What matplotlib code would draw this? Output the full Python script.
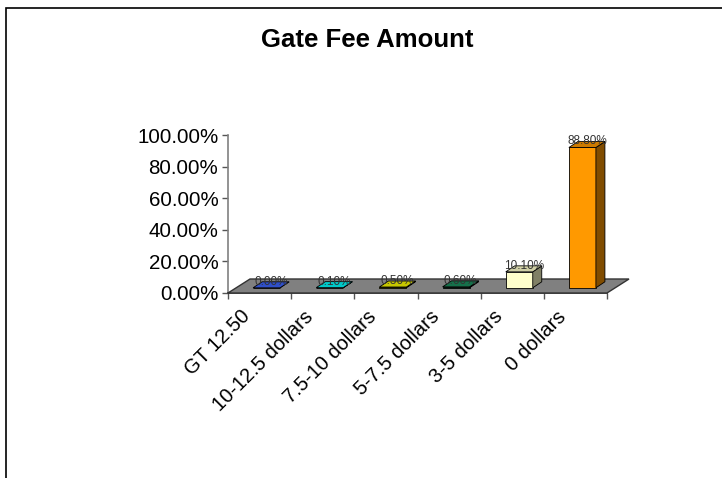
import matplotlib
matplotlib.use('Agg')
import matplotlib.pyplot as plt
from matplotlib.patches import Polygon, Rectangle
from matplotlib.transforms import ScaledTranslation

plt.rcParams['font.family'] = ['Liberation Sans', 'DejaVu Sans']

categories = ['GT 12.50', '10-12.5 dollars', '7.5-10 dollars', '5-7.5 dollars', '3-5 dollars', '0 dollars']
values = [0.0, 0.1, 0.5, 0.6, 10.1, 88.8]
value_labels = ['0.00%', '0.10%', '0.50%', '0.60%', '10.10%', '88.80%']
yticks = [0, 20, 40, 60, 80, 100]
ytick_labels = ['0.00%', '20.00%', '40.00%', '60.00%', '80.00%', '100.00%']
front_colors = ['#3333cc', '#00cccc', '#cccc00', '#006b3c', '#ffffcc', '#ff9900']
side_colors = ['#1a1a66', '#006666', '#666600', '#003319', '#808066', '#804c00']
top_colors = ['#2f4fc8', '#00c8c8', '#c8c800', '#15704a', '#cfcfa5', '#cc7a00']

W, H = 722, 478
fig = plt.figure(figsize=(W / 100, H / 100), dpi=100)
fig.add_artist(Rectangle((6 / W, -0.1), 1.1, 1.1 - 8 / H, transform=fig.transFigure,
                         fill=False, edgecolor='black', linewidth=1.2))

# plot area in pixels: x 228-607, y 293-135
ax = fig.add_axes([228 / W, 1 - 293 / H, 379 / W, 158 / H])
ax.set_xlim(0, 6)
ax.set_ylim(0, 100)
px_x = 6 / 379
px_y = 100 / 158

# floor
floor_dx, floor_dy = 22 * px_x, 14 * px_y
ax.add_patch(Polygon([(0, 0), (6, 0), (6 + floor_dx, floor_dy), (floor_dx, floor_dy)],
                     facecolor='#808080', edgecolor='#333333', linewidth=1, clip_on=False, zorder=3))

# bars with fake 3d faces
bar_w = 27 * px_x
off_x, off_y = 7 * px_x, 5.2 * px_y
dep_x, dep_y = 9 * px_x, 6 * px_y
for i, v in enumerate(values):
    x0 = i + 0.5 - bar_w / 2 + off_x
    x1 = x0 + bar_w
    y0 = off_y
    y1 = y0 + v
    ax.add_patch(Polygon([(x0, y0), (x1, y0), (x1, y1), (x0, y1)], facecolor=front_colors[i],
                         edgecolor='black', linewidth=0.6, clip_on=False, zorder=4))
    ax.add_patch(Polygon([(x1, y0), (x1 + dep_x, y0 + dep_y), (x1 + dep_x, y1 + dep_y), (x1, y1)],
                         facecolor=side_colors[i], edgecolor='black', linewidth=0.6, clip_on=False, zorder=4))
    ax.add_patch(Polygon([(x0, y1), (x1, y1), (x1 + dep_x, y1 + dep_y), (x0 + dep_x, y1 + dep_y)],
                         facecolor=top_colors[i], edgecolor='black', linewidth=0.6, clip_on=False, zorder=4))
    ax.text((x0 + x1 + dep_x) / 2, y1 + dep_y, value_labels[i], fontsize=8.5, color='#333333',
            ha='center', va='center', clip_on=False, zorder=5)

for s in ['top', 'right']:
    ax.spines[s].set_visible(False)
ax.spines['left'].set_color('#808080')
ax.spines['left'].set_linewidth(1.2)
ax.spines['bottom'].set_color('#333333')
ax.spines['bottom'].set_linewidth(1.2)

ax.set_yticks(yticks)
ax.set_yticklabels(ytick_labels, fontsize=14.8)
ax.set_xticks(range(7))
ax.set_xticks([i + 0.5 for i in range(6)], minor=True)
ax.set_xticklabels([])
ax.set_xticklabels(categories, minor=True, fontsize=14.5, rotation=45, ha='right',
                   va='top', rotation_mode='anchor')
ax.tick_params(axis='both', which='major', color='#555555', length=4, width=1, pad=3)
ax.tick_params(axis='x', which='minor', length=0, pad=10)

# labels sit left of the category centre in the original
shift = ScaledTranslation(-19 / 100, 0, fig.dpi_scale_trans)
for lab in ax.get_xticklabels(minor=True):
    lab.set_transform(lab.get_transform() + shift)

fig.text(367.5 / W, 1 - 40 / H, 'Gate Fee Amount', fontsize=18.5, fontweight='bold',
         ha='center', va='center')

fig.savefig('out.png', dpi=100)
